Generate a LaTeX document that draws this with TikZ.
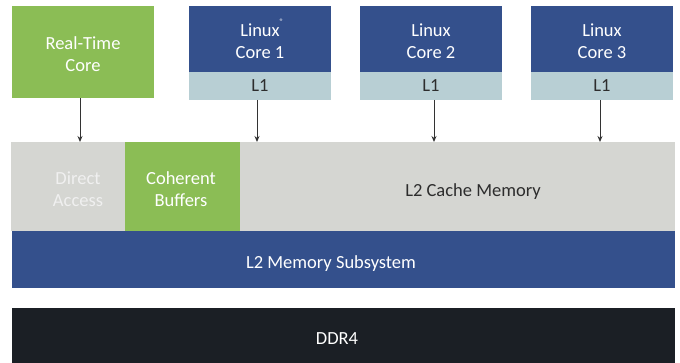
\documentclass[tikz,border=0pt]{standalone}
\usepackage{fontspec}
\setmainfont{Carlito}
\usetikzlibrary{arrows.meta,calc}
\definecolor{cgreen}{RGB}{139,189,85}
\definecolor{cblue}{RGB}{52,80,140}
\definecolor{cl1}{RGB}{184,207,212}
\definecolor{cgray}{RGB}{213,214,210}
\definecolor{cdark}{RGB}{27,31,37}
\definecolor{ctext}{RGB}{45,45,45}
\tikzset{
  blk/.style={rectangle,inner sep=0pt,outer sep=0pt,align=center,font=\fontsize{18.5}{22.5}\selectfont},
  lbl/.style={inner sep=0pt,align=center,font=\fontsize{18.5}{22.5}\selectfont},
  arr/.style={draw=black!80,line width=0.9pt,-{Stealth[length=6pt,width=5pt]}}
}
\begin{document}
\begin{tikzpicture}[x=1pt,y=-1pt]
\useasboundingbox (0,0) rectangle (680,363);
% top row
\node[blk,fill=cgreen,minimum width=142,minimum height=92] (rt) at (83,52) {};
\node[lbl,text=white] (rttxt) at (83,54) {Real-Time\\Core};
\node[blk,fill=cblue,minimum width=142,minimum height=66] (c1) at (260,39) {};
\node[lbl,text=white] (c1txt) at (260,41) {Linux\rlap{\smash{\raisebox{1.3ex}{\fontsize{8}{8}\selectfont ®}}}\\Core 1};
\node[blk,fill=cl1,text=ctext,minimum width=142,minimum height=28] (l1a) at (260,86) {L1};
\node[blk,fill=cblue,minimum width=142,minimum height=66] (c2) at (431,39) {};
\node[lbl,text=white] (c2txt) at (431,41) {Linux\\Core 2};
\node[blk,fill=cl1,text=ctext,minimum width=142,minimum height=28] (l1b) at (431,86) {L1};
\node[blk,fill=cblue,minimum width=142,minimum height=66] (c3) at (602,39) {};
\node[lbl,text=white] (c3txt) at (602,41) {Linux\\Core 3};
\node[blk,fill=cl1,text=ctext,minimum width=142,minimum height=28] (l1c) at (602,86) {L1};
% cache row
\node[blk,fill=cgray,minimum width=114.5,minimum height=89] (da) at (68.25,186.5) {};
\node[lbl,text=white!94!black] (datxt) at (78,189) {Direct\\Access};
\node[blk,fill=cgreen,text=white,minimum width=115,minimum height=89] (cb) at (182.5,186.5) {};
\node[lbl,text=white] (cbtxt) at (181,189) {Coherent\\Buffers};
\node[blk,fill=cgray,minimum width=435,minimum height=89] (cache) at (457.5,186.5) {};
\node[lbl,text=ctext] (cachetxt) at (473,191.5) {L2 Cache Memory};
% memory subsystem
\node[blk,fill=cblue,minimum width=663.5,minimum height=57] (mem) at (343.25,259.5) {};
\node[lbl,text=white] (memtxt) at (331,264) {L2 Memory Subsystem};
% DDR4
\node[blk,fill=cdark,minimum width=663.5,minimum height=55] (ddr) at (343.25,335.5) {};
\node[lbl,text=white] (ddrtxt) at (337,339) {DDR4};
% arrow start points
\coordinate (a0) at ($(rt.south)+(-3,0)$);
\coordinate (a1) at ($(l1a.south)+(-3,0)$);
\coordinate (a2) at ($(l1b.south)+(3,0)$);
\coordinate (a3) at ($(l1c.south)+(-2,0)$);
\draw[arr] (a0) -- (a0 |- da.north);
\draw[arr] (a1) -- (a1 |- cache.north);
\draw[arr] (a2) -- (a2 |- cache.north);
\draw[arr] (a3) -- (a3 |- cache.north);
\end{tikzpicture}
\end{document}
